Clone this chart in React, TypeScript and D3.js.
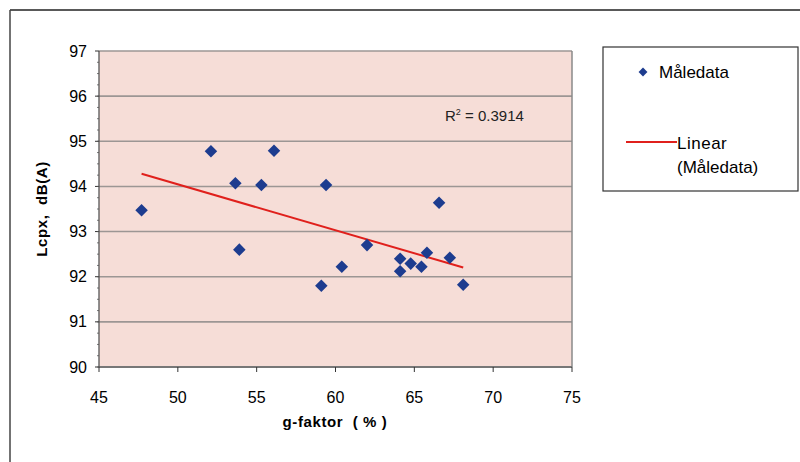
import React from 'react';
import { scaleLinear, symbol, symbolDiamond2, range } from 'd3';

// measured values (g-faktor %, Lcpx dB(A))
const gFaktor = [47.7, 52.1, 53.65, 53.9, 55.3, 56.1, 59.4, 59.1, 60.4, 62.0, 64.1, 64.1, 64.77, 65.45, 65.8, 66.57, 67.25, 68.1];
const lcpx = [93.47, 94.78, 94.07, 92.6, 94.03, 94.79, 94.03, 91.8, 92.22, 92.7, 92.4, 92.12, 92.29, 92.22, 92.53, 93.64, 92.42, 91.82];
const xTicks = [45, 50, 55, 60, 65, 70, 75];
const yTicks = [90, 91, 92, 93, 94, 95, 96, 97];
const seriesName = 'Måledata';
const rSquaredLabel = '0.3914';

const W = 800;
const H = 462;
const plot = { left: 99, right: 572, top: 51, bottom: 367 };

export default function App() {
  const x = scaleLinear().domain([45, 75]).range([plot.left, plot.right]);
  const y = scaleLinear().domain([90, 97]).range([plot.bottom, plot.top]);

  // least squares trend line
  const n = gFaktor.length;
  const mx = gFaktor.reduce((a, b) => a + b, 0) / n;
  const my = lcpx.reduce((a, b) => a + b, 0) / n;
  let sxy = 0;
  let sxx = 0;
  gFaktor.forEach((g, i) => {
    sxy += (g - mx) * (lcpx[i] - my);
    sxx += (g - mx) * (g - mx);
  });
  const slope = sxy / sxx;
  const icpt = my - slope * mx;
  const x0 = Math.min(...gFaktor);
  const x1 = Math.max(...gFaktor);

  const diamond = symbol().type(symbolDiamond2).size(100)();
  const font = '"Liberation Sans", Arial, sans-serif';
  const markColor = '#1d3c8f';
  const txt = '#000';

  return (
    <svg width={W} height={H} style={{ position: 'absolute', left: 0, top: 0, background: '#fff' }} fontFamily={font}>
      {/* outer frame */}
      <line x1={10} x2={800} y1={10} y2={10} stroke="#222" strokeWidth={1.5} />
      <line x1={10} x2={10} y1={10} y2={H} stroke="#444" strokeWidth={1.5} />

      {/* plot background */}
      <rect x={plot.left} y={plot.top} width={plot.right - plot.left} height={plot.bottom - plot.top} fill="#f6ddd7" />

      {/* gridlines */}
      {yTicks.map(t => (
        <line key={'g' + t} x1={plot.left} x2={plot.right} y1={y(t)} y2={y(t)} stroke="#9c9694" strokeWidth={1.6} />
      ))}
      <line x1={plot.right} x2={plot.right} y1={plot.top} y2={plot.bottom} stroke="#8a8a8a" strokeWidth={1.5} />
      <line x1={plot.left} x2={plot.right} y1={plot.bottom} y2={plot.bottom} stroke="#777" strokeWidth={2} />
      <line x1={plot.left} x2={plot.left} y1={plot.top} y2={plot.bottom} stroke="#555" strokeWidth={1.3} />

      {/* y axis */}
      {yTicks.map(t => (
        <g key={'y' + t}>
          <line x1={plot.left - 4} x2={plot.left} y1={y(t)} y2={y(t)} stroke="#333" />
          <text x={87} y={y(t)} dy="0.35em" textAnchor="end" fontSize={16} fill={txt}>{t}</text>
        </g>
      ))}
      {range(90, 97, 0.25).map(t => (
        <line key={'m' + t} x1={plot.left - 2} x2={plot.left} y1={y(t)} y2={y(t)} stroke="#555" strokeWidth={0.8} />
      ))}

      {/* x axis */}
      {xTicks.map(t => (
        <g key={'x' + t}>
          <line x1={x(t)} x2={x(t)} y1={plot.bottom} y2={plot.bottom + 5} stroke="#333" />
          <text x={x(t)} y={397} dy="0.35em" textAnchor="middle" fontSize={16} fill={txt}>{t}</text>
        </g>
      ))}

      {/* axis titles */}
      <text x={335} y={427} textAnchor="middle" fontSize={15} fontWeight="bold" letterSpacing={0.6} fill={txt}>{'g-faktor\u00a0\u00a0( % )'}</text>
      <text transform={`translate(47,${(plot.top + plot.bottom) / 2}) rotate(-90)`} textAnchor="middle" fontSize={15} fontWeight="bold" letterSpacing={0.6} fill={txt}>{'Lcpx,\u00a0\u00a0dB(A)'}</text>

      {/* trend line */}
      <line x1={x(x0)} x2={x(x1)} y1={y(icpt + slope * x0)} y2={y(icpt + slope * x1)} stroke="#e0201c" strokeWidth={2} />

      {/* points */}
      {gFaktor.map((g, i) => (
        <path key={'p' + i} d={diamond as string} transform={`translate(${x(g)},${y(lcpx[i])})`} fill={markColor} />
      ))}

      <text x={445} y={121} fontSize={15} fill="#222">
        R<tspan dy={-6} fontSize={9}>2</tspan><tspan dy={6}>{' = ' + rSquaredLabel}</tspan>
      </text>

      {/* legend */}
      <rect x={603} y={47} width={195} height={144} fill="#fff" stroke="#333" strokeWidth={1.2} />
      <path d={symbol().type(symbolDiamond2).size(50)() as string} transform="translate(643,72)" fill={markColor} />
      <text x={659} y={72} dy="0.35em" fontSize={17} fill={txt}>{seriesName}</text>
      <line x1={626} x2={677} y1={142} y2={142} stroke="#e0201c" strokeWidth={2} />
      <text x={677} y={143} dy="0.35em" fontSize={17} letterSpacing={0.5} fill={txt}>Linear</text>
      <text x={677} y={167} dy="0.35em" fontSize={17} fill={txt}>({seriesName})</text>
    </svg>
  );
}
